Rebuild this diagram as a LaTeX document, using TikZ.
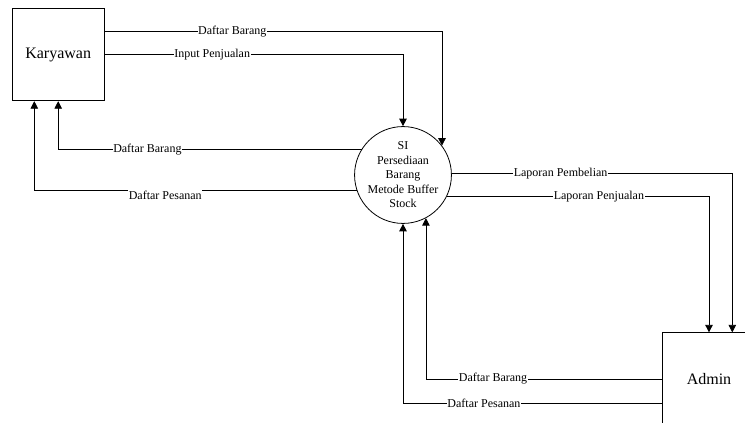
\documentclass[tikz,border=0pt]{standalone}
\usepackage{fontspec}
\setmainfont{Liberation Serif}
\usetikzlibrary{arrows.meta}
\begin{document}
\begin{tikzpicture}[x=1pt,y=-1pt,
  entity/.style={draw,line width=0.8pt,minimum width=92.5pt,minimum height=92.5pt,inner sep=0pt,font=\fontsize{16}{19}\selectfont},
  proc/.style={draw,circle,line width=0.8pt,minimum size=96pt,inner sep=0pt,align=center,font=\fontsize{12}{14.5}\selectfont},
  flow/.style={draw,line width=0.8pt,-{Triangle[length=7.5pt,width=7.5pt]}},
  lbl/.style={fill=white,inner sep=0.5pt,font=\fontsize{12}{14}\selectfont}]
\useasboundingbox[fill=white] (0,0) rectangle (745,423);
\node[entity] (kar) at (58.2,54.5) {Karyawan};
\node[proc] (sys) at (403,175) {SI\\Persediaan\\Barang\\Metode Buffer\\Stock};
\node[entity] (adm) at (709,379) {Admin};
\draw[flow] ([yshift=22.8pt]kar.east) -| node[lbl,pos=0.189] {Daftar Barang} (sys.37.7);
\draw[flow] (kar.east) -| node[lbl,pos=0.18] {Input Penjualan} (sys.north);
\draw[flow] (sys.148.6) -| node[lbl,pos=0.353] {Daftar Barang} (kar.south);
\draw[flow] (sys.199.1) -| node[lbl,pos=0.297,yshift=-4pt] {Daftar Pesanan} ([xshift=-23.9pt]kar.south);
\draw[flow] (sys.2) -| node[lbl,pos=0.194] {Laporan Pembelian} ([xshift=23.3pt]adm.north);
\draw[flow] (sys.-26.8) -| node[lbl,pos=0.29] {Laporan Penjualan} (adm.north);
\draw[flow] (adm.west) -| node[lbl,pos=0.358] {Daftar Barang} (sys.298.6);
\draw[flow] ([yshift=-24.3pt]adm.west) -| node[lbl,pos=0.344] {Daftar Pesanan} (sys.south);
\end{tikzpicture}
\end{document}
